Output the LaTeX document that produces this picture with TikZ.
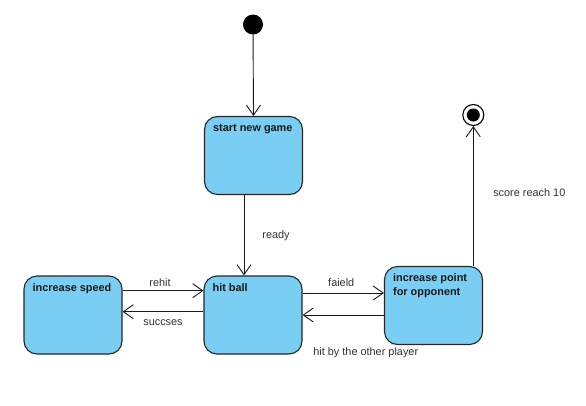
\documentclass[tikz,border=0pt]{standalone}
\usepackage{fontspec}
\setmainfont{Liberation Sans}
\usetikzlibrary{arrows.meta}
\definecolor{boxblue}{RGB}{122,206,244}
\definecolor{labgray}{RGB}{50,50,50}
\tikzset{
  statebox/.style={draw=black!85, line width=1.1pt, fill=boxblue, rounded corners=13pt,
    minimum width=98pt, minimum height=78pt, inner sep=0pt},
  boxtext/.style={font=\fontsize{10.9}{14}\selectfont\bfseries, inner sep=0pt, anchor=north west, align=left, text=black!90},
  trans/.style={draw=black!90, line width=0.9pt, -{Straight Barb[length=10pt,width=14pt,line width=0.9pt]}},
  lab/.style={font=\fontsize{10.9}{12}\selectfont, text=labgray, inner sep=0pt},
}
\begin{document}
\begin{tikzpicture}[x=1pt,y=-1pt]
\useasboundingbox (0,0) rectangle (586,405);
\node[circle, fill=black, minimum size=20pt, inner sep=0pt] (init) at (253,24.5) {};
\node[statebox] (start) at (253.5,155.5) {};
\node[statebox] (speed) at (73,315) {};
\node[statebox] (hit) at (253,315) {};
\node[statebox] (inc) at (433.5,305.5) {};
\node[circle, draw=black, line width=1.1pt, fill=white, minimum size=21pt, inner sep=0pt] (final) at (473.3,115) {};
\node[circle, fill=black, minimum size=13pt, inner sep=0pt] (finaldot) at (final.center) {};

\node[boxtext] (t1) at ([xshift=9pt,yshift=-8pt]start.north west) {start new game};
\node[boxtext] (t2) at ([xshift=9pt,yshift=-8pt]speed.north west) {increase speed};
\node[boxtext] (t3) at ([xshift=9pt,yshift=-8pt]hit.north west) {hit ball};
\node[boxtext] (t4) at ([xshift=9pt,yshift=-7pt]inc.north west) {increase point\\for opponent};

\draw[trans] (init) -- (start.north);
\draw[trans] ([xshift=-9.5pt]start.south) -- ([xshift=-9pt]hit.north)
  node[lab, midway, xshift=32pt] (l1) {ready};
\draw[trans] ([yshift=24.3pt]speed.east) -- ([yshift=24.3pt]hit.west)
  node[lab, midway, xshift=-3pt, yshift=8pt] (l2) {rehit};
\draw[trans] ([yshift=3.3pt]hit.west) -- ([yshift=3.3pt]speed.east)
  node[lab, midway, yshift=-11pt] (l3) {succses};
\draw[trans] ([yshift=22pt]hit.east) -- ([yshift=22pt]hit.east -| inc.west)
  node[lab, midway, xshift=-2pt, yshift=10pt] (l4) {faield};
\draw[trans] (inc.west |- hit.east) -- (hit.east)
  node[lab, midway, xshift=22.5pt, yshift=-37.5pt] (l5) {hit by the other player};
\draw[trans] (final |- inc.north) -- (final.south)
  node[lab, midway, xshift=56pt, yshift=3pt] (l6) {score reach 10};
\end{tikzpicture}
\end{document}
